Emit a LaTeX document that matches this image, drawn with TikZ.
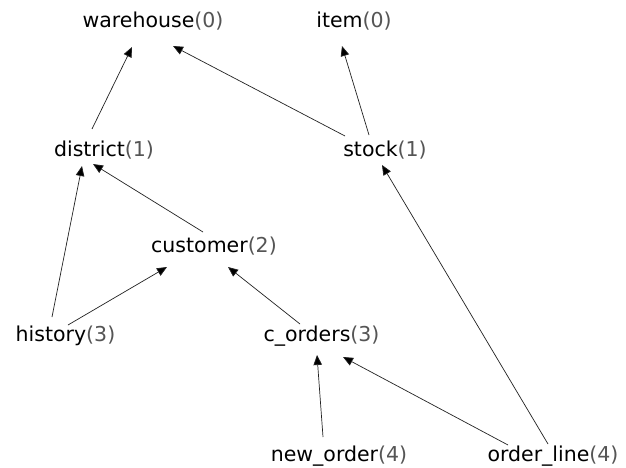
\documentclass[tikz,border=0pt]{standalone}
\usepackage{fontspec}
\setmainfont{DejaVu Sans}
\usetikzlibrary{arrows.meta}
\definecolor{numgray}{HTML}{555555}
\definecolor{linegray}{HTML}{222222}
\newcommand{\lvl}[1]{\textcolor{numgray}{(#1)}}
\begin{document}
\begin{tikzpicture}[x=1pt,y=-1pt,
  tbl/.style={anchor=base,inner sep=0pt,outer sep=0pt,font=\fontsize{20.5}{23}\selectfont},
  arr/.style={draw=linegray,line width=0.7pt,-{Triangle[length=10pt,width=8.5pt,fill=black]}}]
\useasboundingbox[fill=white] (0,0) rectangle (626,468);
\node[tbl] (warehouse) at (153,28) {warehouse\lvl{0}};
\node[tbl] (item) at (354,28) {item\lvl{0}};
\node[tbl] (district) at (104,156) {district\lvl{1}};
\node[tbl] (stock) at (385,157) {stock\lvl{1}};
\node[tbl] (customer) at (214,252) {customer\lvl{2}};
\node[tbl] (history) at (65.5,341) {history\lvl{3}};
\node[tbl] (corders) at (321.5,341) {c\_orders\lvl{3}};
\node[tbl] (neworder) at (339,461) {new\_order\lvl{4}};
\node[tbl] (orderline) at (553,461) {order\_line\lvl{4}};
\draw[arr] ([shift={(-12,-27)}]district.base) -- ([shift={(-21,19)}]warehouse.base);
\draw[arr] ([shift={(-40,-21)}]stock.base) -- ([shift={(20,18)}]warehouse.base);
\draw[arr] ([shift={(-16,-22)}]stock.base) -- ([shift={(-12,18)}]item.base);
\draw[arr] ([shift={(-11,-20)}]customer.base) -- ([shift={(-11,8)}]district.base);
\draw[arr] ([shift={(-13.5,-24)}]history.base) -- ([shift={(-22,10)}]district.base);
\draw[arr] ([shift={(2.5,-16)}]history.base) -- ([shift={(-47,15)}]customer.base);
\draw[arr] ([shift={(-21.5,-17)}]corders.base) -- ([shift={(14,15)}]customer.base);
\draw[arr] ([shift={(-16,-24)}]neworder.base) -- ([shift={(-4.5,14)}]corders.base);
\draw[arr] ([shift={(-45,-16)}]orderline.base) -- ([shift={(21.5,16)}]corders.base);
\draw[arr] ([shift={(-5,-17)}]orderline.base) -- ([shift={(-3,8)}]stock.base);
\end{tikzpicture}
\end{document}
